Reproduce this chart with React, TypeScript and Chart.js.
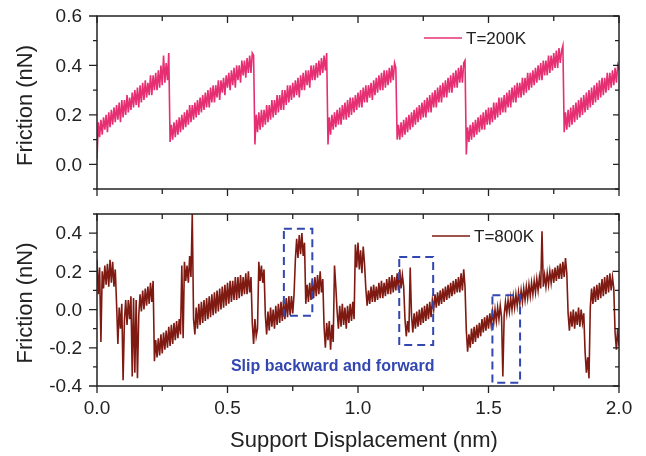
import React, { useEffect, useRef } from "react";
import { Chart, registerables } from "chart.js";

Chart.register(...registerables);

// sampling grid of the support displacement (nm)
const STEP = 0.005;

// T = 200K friction trace (nN), one value per STEP starting at 0
const friction200K = [
  0.02, 0.17, 0.11, 0.18, 0.12, 0.19, 0.14, 0.2, 0.13, 0.21, 0.15, 0.22, 0.16, 0.23, 0.17, 0.24, 0.18, 0.25, 0.17, 0.26,
  0.19, 0.26, 0.2, 0.28, 0.21, 0.27, 0.22, 0.29, 0.23, 0.3, 0.24, 0.31, 0.23, 0.32, 0.25, 0.33, 0.26, 0.34, 0.27, 0.33,
  0.28, 0.36, 0.28, 0.36, 0.3, 0.37, 0.3, 0.38, 0.31, 0.4, 0.32, 0.44, 0.33, 0.41, 0.34, 0.45,
  0.09, 0.16, 0.1, 0.17, 0.11, 0.18, 0.12, 0.19, 0.13, 0.2, 0.14, 0.21, 0.15, 0.22, 0.16, 0.24, 0.17, 0.24, 0.18, 0.25,
  0.19, 0.26, 0.2, 0.27, 0.21, 0.28, 0.22, 0.29, 0.23, 0.3, 0.23, 0.31, 0.25, 0.32, 0.25, 0.32, 0.27, 0.34, 0.26, 0.34,
  0.29, 0.35, 0.28, 0.36, 0.31, 0.37, 0.3, 0.38, 0.32, 0.39, 0.31, 0.4, 0.34, 0.4, 0.33, 0.42, 0.36, 0.42, 0.35, 0.43,
  0.37, 0.44, 0.37, 0.45, 0.44,
  0.08, 0.2, 0.13, 0.21, 0.14, 0.22, 0.15, 0.22, 0.16, 0.24, 0.17, 0.24, 0.18, 0.26, 0.19, 0.26, 0.2, 0.28, 0.21, 0.28,
  0.22, 0.3, 0.22, 0.3, 0.24, 0.32, 0.25, 0.32, 0.26, 0.33, 0.27, 0.34, 0.28, 0.35, 0.27, 0.36, 0.3, 0.37, 0.3, 0.38,
  0.32, 0.38, 0.31, 0.4, 0.34, 0.4, 0.34, 0.41, 0.35, 0.42, 0.36, 0.43, 0.37, 0.44, 0.38, 0.45,
  0.08, 0.19, 0.12, 0.2, 0.14, 0.21, 0.15, 0.22, 0.16, 0.23, 0.16, 0.24, 0.18, 0.25, 0.18, 0.26, 0.19, 0.27, 0.2, 0.27,
  0.21, 0.28, 0.22, 0.29, 0.23, 0.3, 0.23, 0.31, 0.25, 0.32, 0.25, 0.32, 0.27, 0.33, 0.26, 0.34, 0.28, 0.35, 0.29, 0.36,
  0.3, 0.37, 0.3, 0.38, 0.31, 0.38, 0.32, 0.39, 0.33, 0.4, 0.34, 0.41, 0.39,
  0.1, 0.16, 0.1, 0.17, 0.11, 0.18, 0.12, 0.19, 0.13, 0.2, 0.14, 0.21, 0.15, 0.22, 0.16, 0.23, 0.17, 0.24, 0.18, 0.25,
  0.19, 0.26, 0.19, 0.27, 0.21, 0.28, 0.21, 0.29, 0.23, 0.3, 0.23, 0.31, 0.25, 0.32, 0.25, 0.33, 0.27, 0.34, 0.27, 0.35,
  0.29, 0.36, 0.29, 0.37, 0.31, 0.38, 0.31, 0.39, 0.33, 0.4, 0.33, 0.41, 0.42,
  0.04, 0.15, 0.09, 0.16, 0.1, 0.17, 0.11, 0.18, 0.12, 0.19, 0.13, 0.2, 0.14, 0.21, 0.14, 0.22, 0.16, 0.23, 0.16, 0.23,
  0.17, 0.25, 0.18, 0.25, 0.19, 0.27, 0.2, 0.27, 0.21, 0.28, 0.21, 0.29, 0.23, 0.3, 0.23, 0.31, 0.25, 0.32, 0.25, 0.33,
  0.27, 0.33, 0.27, 0.35, 0.28, 0.35, 0.29, 0.37, 0.3, 0.37, 0.31, 0.38, 0.32, 0.39, 0.33, 0.4, 0.34, 0.41, 0.34, 0.42,
  0.36, 0.42, 0.36, 0.44, 0.37, 0.44, 0.38, 0.45, 0.39, 0.46, 0.39, 0.47, 0.41, 0.46, 0.48,
  0.13, 0.21, 0.14, 0.22, 0.15, 0.23, 0.16, 0.24, 0.17, 0.25, 0.18, 0.26, 0.19, 0.27, 0.2, 0.28, 0.21, 0.29, 0.22, 0.3,
  0.23, 0.31, 0.24, 0.32, 0.25, 0.33, 0.26, 0.34, 0.27, 0.35, 0.28, 0.35, 0.29, 0.37, 0.3, 0.37, 0.31, 0.38, 0.32, 0.39,
  0.33, 0.4, 0.38,
];

// T = 800K friction trace (nN), one value per STEP starting at 0
const friction800K = [
  0.26, 0.08, 0.22, -0.17, 0.2, 0.11, 0.23, 0.13, 0.24, 0.12, 0.26, 0.14, 0.25, 0.12, 0.21,
  0.03, -0.18, 0.01, -0.1, 0.03, -0.37, -0.06, 0.05, -0.08, 0.05, -0.05, 0.07, -0.35, 0.06, -0.33,
  0.05, -0.36, -0.03, 0.08, -0.01, 0.1, 0.0, 0.11, 0.02, 0.12, 0.03, 0.14, 0.04, 0.15,
  -0.27, -0.16, -0.25, -0.15, -0.24, -0.13, -0.23, -0.12, -0.21, -0.11, -0.2, -0.09, -0.19, -0.08, -0.18, -0.07,
  -0.16, -0.06, -0.15, -0.05, -0.13,
  0.23, -0.15, 0.25, 0.15, 0.23, 0.14, 0.28, 0.17, 0.5,
  -0.05, -0.13, 0.01, -0.1, 0.03, -0.08, 0.04, -0.07, 0.05, -0.06, 0.06, -0.05, 0.07, -0.04, 0.08, -0.03,
  0.09, -0.02, 0.1, -0.01, 0.11, 0.0, 0.12, 0.01, 0.13, 0.02, 0.14, 0.03, 0.15, 0.04, 0.15, 0.05, 0.17, 0.05,
  0.17, 0.06, 0.18, 0.07, 0.17, 0.08, 0.19, 0.08, 0.2, 0.09, 0.17,
  -0.07, -0.18, -0.05, -0.14, -0.1, 0.25, 0.15, 0.23, 0.14, 0.21,
  -0.03, -0.13, -0.01, -0.11, 0.01, -0.09, 0.0, -0.1, 0.02, -0.08, 0.03, -0.07, 0.04, -0.06, 0.05, -0.05,
  0.06, -0.04, 0.07, -0.03, 0.07, -0.02, 0.08,
  0.26, 0.37, 0.27, 0.39, 0.29, 0.4, 0.28, 0.35,
  0.03, 0.13, 0.04, 0.14, 0.05, 0.15, 0.06, 0.17, 0.07, 0.18, 0.08, 0.2, 0.09, 0.16,
  -0.09, -0.2, -0.07, -0.16, -0.06, -0.21, -0.08, -0.17, 0.23, 0.12,
  -0.01, -0.1, 0.02, -0.09, 0.03, -0.08, 0.01, -0.1, 0.02, -0.07, 0.03, -0.06, 0.04, -0.05,
  0.34, 0.22, 0.35, 0.21, 0.31, 0.19, 0.33, 0.24,
  0.11, 0.02, 0.1, 0.03, 0.12, 0.04, 0.13, 0.04, 0.12, 0.05, 0.14, 0.06, 0.15, 0.06, 0.14, 0.07,
  0.16, 0.08, 0.17, 0.08, 0.18, 0.09, 0.17, 0.1, 0.19, 0.1, 0.21, 0.11, 0.18, 0.12,
  -0.05, -0.14, -0.06, -0.12, 0.22,
  -0.03, -0.12, -0.02, -0.1, -0.01, -0.09, 0.0, -0.08, 0.01, -0.07, 0.02, -0.06, 0.03, -0.05, 0.04, -0.04, 0.05,
  0.0, 0.08, 0.01, 0.09, 0.02, 0.1, 0.03, 0.11, 0.04, 0.12, 0.05, 0.13, 0.06, 0.14, 0.07, 0.15,
  0.08, 0.16, 0.09, 0.17, 0.09, 0.19, 0.1, 0.21, 0.12,
  -0.11, -0.22, -0.13, -0.2, -0.1, -0.18, -0.09, -0.17, -0.08, -0.15, -0.07, -0.14, -0.05, -0.12, -0.04, -0.11,
  -0.03, -0.1, -0.02, -0.08, -0.01, -0.07, 0.0, -0.06, 0.01, -0.05, 0.02, -0.04, -0.35, -0.03, 0.04, -0.02,
  0.05, -0.01, 0.06, 0.0, 0.07, 0.01,
  0.08, 0.02, 0.09, 0.03, 0.1, 0.04, 0.11, 0.05, 0.12, 0.06, 0.13, 0.07, 0.14, 0.08, 0.15, 0.09, 0.16, 0.1,
  0.17, 0.11, 0.41, 0.12, 0.18, 0.12, 0.19, 0.13, 0.2, 0.14, 0.21, 0.14, 0.22, 0.15, 0.23, 0.16, 0.24, 0.16,
  0.25, 0.17, 0.27, 0.19,
  -0.02, -0.11, -0.01, -0.09, 0.0, -0.1, -0.01, -0.08, 0.01, -0.09, 0.0, -0.07, -0.02,
  -0.22, -0.33, -0.25, -0.36,
  0.01, 0.11, 0.03, 0.12, 0.04, 0.13, 0.05, 0.14, 0.06, 0.16, 0.07, 0.17, 0.08, 0.18, 0.09, 0.19, 0.1, 0.17, 0.11,
  -0.12, -0.21, -0.1, -0.19,
];

const xMajorTicks = [0.0, 0.5, 1.0, 1.5, 2.0];
const xMinorTicks = [0.25, 0.75, 1.25, 1.75];
const topYMajor = [0.0, 0.2, 0.4, 0.6];
const topYMinor = [-0.1, 0.1, 0.3, 0.5];
const bottomYMajor = [-0.4, -0.2, 0.0, 0.2, 0.4];
const bottomYMinor = [-0.3, -0.1, 0.1, 0.3, 0.5];

// dashed boxes: [xStart, xEnd, yBottom, yTop] in data units
const slipBoxes = [
  [0.716, 0.825, -0.033, 0.423],
  [1.158, 1.288, -0.186, 0.275],
  [1.515, 1.621, -0.383, 0.075],
];
const slipLabel = { x: 0.513, y: -0.3, text: "Slip backward and forward" };

const COLOR_200 = "#e62f72";
const COLOR_800 = "#7f1a12";
const AXIS_COLOR = "#222";
const FONT = '"Liberation Sans", Arial, Helvetica, sans-serif';

type PanelOpts = {
  yMajor: number[];
  yMinor: number[];
  legendText: string;
  legendColor: string;
  legendX: number;
  legendY: number;
  showXLabels: boolean;
  boxes: boolean;
};

function makePlugin(o: PanelOpts) {
  return {
    id: "panelDecor",
    afterDraw(chart: any) {
      const { ctx, chartArea: a, scales } = chart;
      const xs = scales.x;
      const ys = scales.y;
      ctx.save();
      ctx.strokeStyle = AXIS_COLOR;
      ctx.lineWidth = 1.5;
      ctx.strokeRect(a.left, a.top, a.right - a.left, a.bottom - a.top);
      ctx.lineWidth = 1.3;
      ctx.beginPath();
      const xt = [...xMajorTicks.map((v) => [v, 1]), ...xMinorTicks.map((v) => [v, 0])];
      for (const [v, maj] of xt) {
        const px = xs.getPixelForValue(v);
        const len = maj ? 7 : 5;
        ctx.moveTo(px, a.bottom);
        ctx.lineTo(px, a.bottom + len);
        ctx.moveTo(px, a.top);
        ctx.lineTo(px, a.top + len);
      }
      const yt = [...o.yMajor.map((v) => [v, 1]), ...o.yMinor.map((v) => [v, 0])];
      for (const [v, maj] of yt) {
        const py = ys.getPixelForValue(v);
        const len = maj ? 8 : 4;
        ctx.moveTo(a.left - len, py);
        ctx.lineTo(a.left, py);
        ctx.moveTo(a.right, py);
        ctx.lineTo(a.right - (maj ? 6 : 4), py);
      }
      ctx.stroke();

      ctx.fillStyle = AXIS_COLOR;
      ctx.font = `19px ${FONT}`;
      ctx.textAlign = "right";
      ctx.textBaseline = "middle";
      for (const v of o.yMajor) {
        ctx.fillText(v.toFixed(1), a.left - 15, ys.getPixelForValue(v) + 1);
      }
      ctx.save();
      ctx.translate(26, (a.top + a.bottom) / 2 + 3);
      ctx.rotate(-Math.PI / 2);
      ctx.textAlign = "center";
      ctx.textBaseline = "middle";
      ctx.font = `22px ${FONT}`;
      ctx.fillText("Friction (nN)", 0, 0);
      ctx.restore();

      if (o.showXLabels) {
        ctx.textAlign = "center";
        ctx.textBaseline = "middle";
        ctx.font = `19px ${FONT}`;
        for (const v of xMajorTicks) {
          ctx.fillText(v.toFixed(1), xs.getPixelForValue(v), a.bottom + 23);
        }
        ctx.font = `22px ${FONT}`;
        ctx.fillText("Support Displacement (nm)", (a.left + a.right) / 2 + 6, a.bottom + 55);
      }

      ctx.strokeStyle = o.legendColor;
      ctx.lineWidth = 1.5;
      ctx.beginPath();
      ctx.moveTo(o.legendX, o.legendY);
      ctx.lineTo(o.legendX + 38, o.legendY);
      ctx.stroke();
      ctx.fillStyle = AXIS_COLOR;
      ctx.font = `17px ${FONT}`;
      ctx.textAlign = "left";
      ctx.textBaseline = "middle";
      ctx.fillText(o.legendText, o.legendX + 42, o.legendY + 1);

      if (o.boxes) {
        ctx.strokeStyle = "#3347b0";
        ctx.lineWidth = 2;
        ctx.setLineDash([8, 5]);
        for (const [x0, x1, y0, y1] of slipBoxes) {
          const l = xs.getPixelForValue(x0);
          const r = xs.getPixelForValue(x1);
          const t = ys.getPixelForValue(y1);
          const b = ys.getPixelForValue(y0);
          ctx.strokeRect(l, t, r - l, b - t);
        }
        ctx.setLineDash([]);
        ctx.fillStyle = "#3347b0";
        ctx.font = `bold 16px ${FONT}`;
        ctx.textAlign = "left";
        ctx.textBaseline = "middle";
        ctx.fillText(slipLabel.text, xs.getPixelForValue(slipLabel.x), ys.getPixelForValue(slipLabel.y));
      }
      ctx.restore();
    },
  };
}

function makeChart(
  canvas: HTMLCanvasElement,
  values: number[],
  color: string,
  yMin: number,
  yMax: number,
  padding: { left: number; right: number; top: number; bottom: number },
  opts: PanelOpts
) {
  return new Chart(canvas, {
    type: "line",
    data: {
      datasets: [
        {
          data: values.map((y, i) => ({ x: i * STEP, y })),
          borderColor: color,
          borderWidth: 1.6,
          pointRadius: 0,
          tension: 0,
          fill: false,
        },
      ],
    },
    options: {
      responsive: false,
      animation: false,
      devicePixelRatio: 1,
      layout: { padding },
      plugins: { legend: { display: false }, tooltip: { enabled: false } },
      scales: {
        x: { type: "linear", min: 0, max: 2, display: false },
        y: { type: "linear", min: yMin, max: yMax, display: false },
      },
    },
    plugins: [makePlugin(opts)],
  } as any);
}

export default function App() {
  const topRef = useRef<HTMLCanvasElement>(null);
  const botRef = useRef<HTMLCanvasElement>(null);

  useEffect(() => {
    const c1 = makeChart(
      topRef.current!,
      friction200K,
      COLOR_200,
      -0.1,
      0.6,
      { left: 97, right: 27, top: 16, bottom: 11 },
      {
        yMajor: topYMajor,
        yMinor: topYMinor,
        legendText: "T=200K",
        legendColor: COLOR_200,
        legendX: 424,
        legendY: 38,
        showXLabels: false,
        boxes: false,
      }
    );
    const c2 = makeChart(
      botRef.current!,
      friction800K,
      COLOR_800,
      -0.4,
      0.5,
      { left: 97, right: 27, top: 14, bottom: 70 },
      {
        yMajor: bottomYMajor,
        yMinor: bottomYMinor,
        legendText: "T=800K",
        legendColor: COLOR_800,
        legendX: 432,
        legendY: 36,
        showXLabels: true,
        boxes: true,
      }
    );
    return () => {
      c1.destroy();
      c2.destroy();
    };
  }, []);

  return (
    <div style={{ position: "fixed", left: 0, top: 0, width: 646, height: 456, background: "#fff" }}>
      <canvas ref={topRef} width={646} height={200} style={{ position: "absolute", left: 0, top: 0, width: 646, height: 200 }} />
      <canvas ref={botRef} width={646} height={256} style={{ position: "absolute", left: 0, top: 200, width: 646, height: 256 }} />
    </div>
  );
}
